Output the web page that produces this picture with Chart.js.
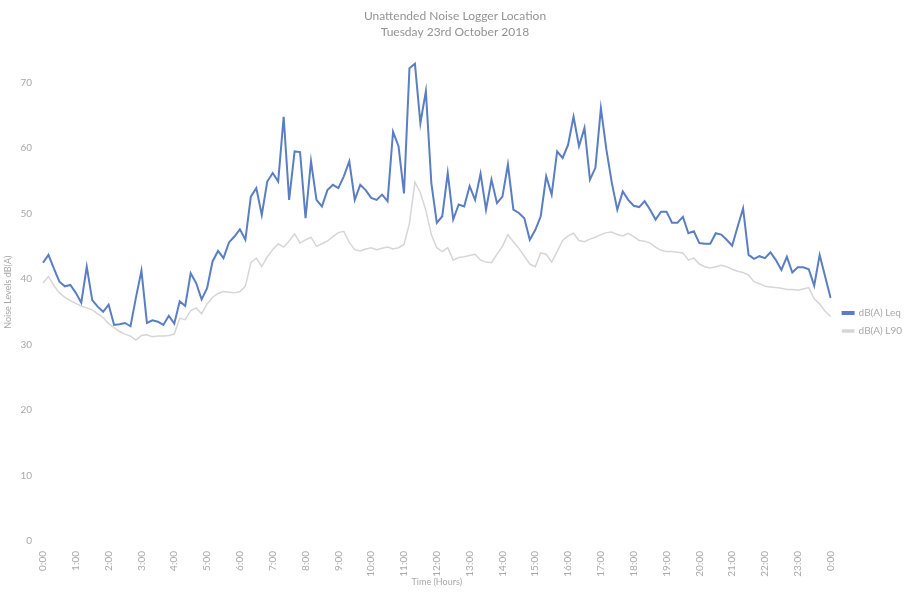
<!DOCTYPE html>
<html>
<head>
<meta charset="utf-8">
<title>Unattended Noise Logger Location</title>
<script src="https://cdn.jsdelivr.net/npm/chart.js@4.4.1/dist/chart.umd.min.js"></script>
<style>
  html, body { margin: 0; padding: 0; background: #fff; }
  #wrap { width: 905px; height: 592px; }
</style>
</head>
<body>
<div id="wrap"><canvas id="noiseChart"></canvas></div>
<script>
// Hour labels shown on the time axis (readings are every 10 minutes)
const hourLabels = ['0:00', '1:00', '2:00', '3:00', '4:00', '5:00', '6:00', '7:00', '8:00',
  '9:00', '10:00', '11:00', '12:00', '13:00', '14:00', '15:00', '16:00', '17:00', '18:00',
  '19:00', '20:00', '21:00', '22:00', '23:00', '0:00'];

// dB(A) Leq, 10 minute periods from 0:00 to 0:00
const leqValues = [
  42.5, 43.7, 41.6, 39.6, 38.9, 39.1, 37.9, 36.4, 41.9, 36.8, 35.8, 35.0,
  36.1, 33.0, 33.1, 33.3, 32.8, 37.2, 41.3, 33.3, 33.7, 33.5, 33.0, 34.4,
  33.2, 36.6, 35.9, 40.9, 39.4, 36.9, 38.6, 42.7, 44.3, 43.2, 45.6, 46.5,
  47.6, 46.0, 52.6, 53.9, 49.8, 54.9, 56.2, 54.9, 64.8, 52.1, 59.5, 59.4,
  49.3, 58.0, 52.1, 51.1, 53.6, 54.4, 53.9, 55.7, 58.0, 52.1, 54.4, 53.6,
  52.4, 52.1, 52.9, 51.9, 62.5, 60.3, 53.1, 72.2, 72.9, 63.8, 68.7, 54.7,
  48.6, 49.6, 56.2, 49.1, 51.4, 51.1, 54.2, 52.1, 56.1, 50.6, 55.2, 51.6,
  52.6, 57.5, 50.6, 50.1, 49.3, 46.0, 47.5, 49.6, 55.7, 52.9, 59.5, 58.5,
  60.5, 64.8, 60.3, 63.1, 55.2, 57.0, 66.1, 59.8, 54.7, 50.6, 53.4, 52.1,
  51.2, 51.0, 51.9, 50.6, 49.1, 50.3, 50.3, 48.6, 48.6, 49.5, 47.0, 47.3,
  45.5, 45.4, 45.4, 47.0, 46.8, 46.0, 45.1, 48.0, 50.8, 43.7, 43.1, 43.5,
  43.2, 44.1, 42.9, 41.4, 43.4, 41.0, 41.8, 41.8, 41.5, 39.0, 43.7, 40.4,
  37.1
];

// dB(A) L90, same periods
const l90Values = [
  39.4, 40.4, 39.0, 37.9, 37.2, 36.7, 36.3, 35.9, 35.6, 35.3, 34.7, 34.1,
  33.2, 32.6, 32.0, 31.6, 31.3, 30.7, 31.4, 31.5, 31.2, 31.3, 31.3, 31.4,
  31.6, 34.0, 33.8, 35.2, 35.6, 34.7, 36.2, 37.2, 37.8, 38.1, 38.0, 37.9,
  38.1, 38.9, 42.5, 43.2, 41.9, 43.4, 44.5, 45.4, 44.9, 45.8, 46.9, 45.5,
  46.0, 46.4, 45.0, 45.4, 45.8, 46.5, 47.1, 47.3, 45.6, 44.5, 44.3, 44.6,
  44.8, 44.5, 44.7, 44.9, 44.6, 44.8, 45.3, 48.5, 54.8, 53.2, 50.5, 46.8,
  44.8, 44.2, 44.8, 42.9, 43.3, 43.4, 43.6, 43.8, 42.9, 42.6, 42.5, 43.8,
  45.0, 46.8, 45.7, 44.7, 43.5, 42.3, 41.9, 44.0, 43.8, 42.6, 44.2, 45.9,
  46.6, 47.0, 45.9, 45.7, 46.1, 46.4, 46.8, 47.1, 47.2, 46.8, 46.6, 47.0,
  46.5, 45.9, 45.8, 45.5, 44.9, 44.4, 44.2, 44.2, 44.1, 44.0, 42.9, 43.2,
  42.3, 41.9, 41.7, 41.9, 42.1, 41.9, 41.5, 41.2, 41.0, 40.6, 39.6, 39.3,
  38.9, 38.8, 38.7, 38.6, 38.4, 38.4, 38.3, 38.5, 38.7, 37.0, 36.2, 35.1,
  34.3
];

const seriesNames = ['dB(A) Leq', 'dB(A) L90'];
const titleLines = ['Unattended Noise Logger Location', 'Tuesday 23rd October 2018'];

// category label per reading: h:mm
const timeLabels = leqValues.map((_, i) => {
  const h = Math.floor(i / 6) % 24;
  const m = (i % 6) * 10;
  return h + ':' + String(m).padStart(2, '0');
});

const fontFamily = "Lato, 'Open Sans', sans-serif";
const textGrey = '#a8a8a8';

// push the right-hand legend down from centre and a touch to the right
const legendNudge = {
  id: 'legendNudge',
  afterLayout(chart) {
    if (!chart.legend) return;
    chart.legend.top += 27;
    chart.legend.bottom += 27;
    chart.legend.left += 4;
    chart.legend.right += 4;
  }
};

document.addEventListener('DOMContentLoaded', () => {
  const ctx = document.getElementById('noiseChart').getContext('2d');

  new Chart(ctx, {
    type: 'line',
    data: {
      labels: timeLabels,
      datasets: [{
        label: seriesNames[0],
        data: leqValues,
        borderColor: '#5a7ec3',
        backgroundColor: '#5a7ec3',
        borderWidth: 2,
        pointRadius: 0,
        tension: 0
      }, {
        label: seriesNames[1],
        data: l90Values,
        borderColor: '#d6d6d6',
        backgroundColor: '#d6d6d6',
        borderWidth: 1.5,
        pointRadius: 0,
        tension: 0
      }]
    },
    options: {
      responsive: true,
      maintainAspectRatio: false,
      animation: false,
      layout: { padding: { left: 2, right: -3, top: 0, bottom: 2 } },
      plugins: {
        title: {
          display: true,
          text: titleLines,
          color: '#939393',
          font: { family: fontFamily, size: 12, weight: 'normal', lineHeight: 1.35 },
          padding: { top: 8, bottom: 3 }
        },
        legend: {
          position: 'right',
          labels: {
            boxWidth: 11,
            boxHeight: 2,
            padding: 8,
            color: textGrey,
            font: { family: fontFamily, size: 10 }
          }
        },
        tooltip: { enabled: false }
      },
      scales: {
        x: {
          grid: { display: false },
          border: { display: false },
          ticks: {
            autoSkip: false,
            maxRotation: 90,
            minRotation: 90,
            padding: 2,
            color: textGrey,
            font: { family: fontFamily, size: 10 },
            callback: (val, i) => (i % 6 === 0 ? hourLabels[i / 6] : null)
          },
          title: {
            display: true,
            text: 'Time (Hours)',
            color: textGrey,
            font: { family: fontFamily, size: 9 },
            padding: { top: 2, bottom: 3 }
          },
          afterFit: (scale) => { scale.height = 49; }
        },
        y: {
          min: 0,
          max: 76,
          grid: { display: false },
          border: { display: false },
          ticks: {
            stepSize: 10,
            padding: 3,
            color: textGrey,
            font: { family: fontFamily, size: 10 },
            callback: (v) => (v % 10 === 0 ? v : null)
          },
          title: {
            display: true,
            text: 'Noise Levels dB(A)',
            color: textGrey,
            font: { family: fontFamily, size: 9 },
            padding: { top: 1, bottom: 2 }
          },
          afterFit: (scale) => { scale.width = 41; }
        }
      }
    },
    plugins: [legendNudge]
  });
});
</script>
</body>
</html>
